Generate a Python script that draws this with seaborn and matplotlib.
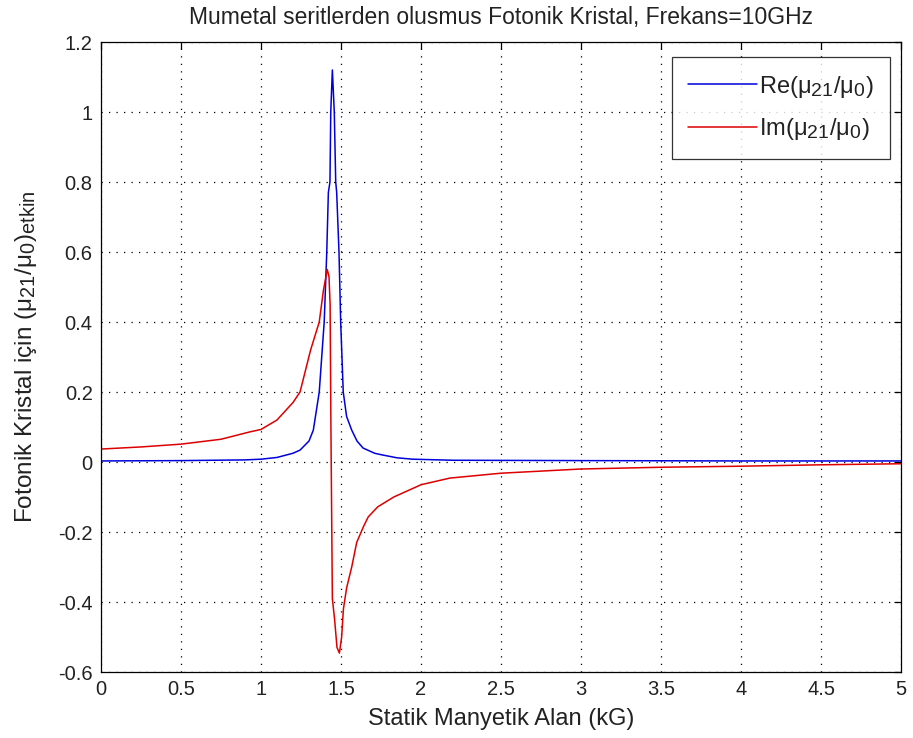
import numpy as np
import pandas as pd
import matplotlib
matplotlib.use("Agg")
import matplotlib.pyplot as plt
import seaborn as sns

try:
    import matplotlib._mathtext as _mt
    _mt.SHRINK_FACTOR = 0.82
except Exception:
    pass

# ---- data ----
field_re = [0.0, 0.5, 0.9, 1.0, 1.1, 1.2, 1.244, 1.3, 1.327, 1.364, 1.395, 1.411,
            1.421, 1.431, 1.436, 1.446, 1.458, 1.467, 1.473, 1.4875, 1.498, 1.514,
            1.535, 1.567, 1.6, 1.6375, 1.71, 1.76, 1.85, 1.95, 2.2, 3.0, 4.0, 5.0]
re_vals = [0.003, 0.004, 0.006, 0.008, 0.013, 0.025, 0.034, 0.06, 0.091, 0.2, 0.4, 0.6,
           0.77, 0.8, 1.0, 1.12, 1.0, 0.8, 0.77, 0.6, 0.4, 0.2,
           0.13, 0.091, 0.06, 0.04, 0.025, 0.02, 0.012, 0.008, 0.005, 0.004, 0.003, 0.003]

field_im = [0.0, 0.25, 0.5, 0.75, 0.93, 1.0, 1.1, 1.2, 1.244, 1.31, 1.364, 1.39,
            1.414, 1.425, 1.432, 1.437, 1.446, 1.46, 1.475, 1.49, 1.504, 1.515,
            1.535, 1.567, 1.598, 1.64, 1.67, 1.73, 1.83, 2.0, 2.18, 2.5, 3.0,
            3.5, 4.0, 4.5, 5.0]
im_vals = [0.037, 0.043, 0.051, 0.065, 0.086, 0.093, 0.12, 0.17, 0.2, 0.32, 0.4, 0.49,
           0.55, 0.53, 0.45, 0.1, -0.39, -0.45, -0.53, -0.546, -0.5, -0.42,
           -0.36, -0.3, -0.23, -0.185, -0.157, -0.128, -0.1, -0.065, -0.046, -0.032, -0.02,
           -0.015, -0.012, -0.008, -0.005]

x_ticks = [0, 0.5, 1, 1.5, 2, 2.5, 3, 3.5, 4, 4.5, 5]
x_tick_labels = ["0", "0.5", "1", "1.5", "2", "2.5", "3", "3.5", "4", "4.5", "5"]
y_ticks = [-0.6, -0.4, -0.2, 0, 0.2, 0.4, 0.6, 0.8, 1, 1.2]
y_tick_labels = ["-0.6", "-0.4", "-0.2", "0", "0.2", "0.4", "0.6", "0.8", "1", "1.2"]

title = "Mumetal seritlerden olusmus Fotonik Kristal, Frekans=10GHz"
xlabel = "Statik Manyetik Alan (kG)"
ylabel = "Fotonik Kristal için (μ$_{21}$/μ$_0$)$_{\\mathrm{etkin}}$"
label_re = "Re(μ$_{21}$/μ$_0$)"
label_im = "Im(μ$_{21}$/μ$_0$)"

sns.set_style("white")
plt.rcParams["font.family"] = ["Liberation Sans", "DejaVu Sans"]
plt.rcParams["mathtext.fontset"] = "custom"
plt.rcParams["mathtext.rm"] = "Liberation Sans"
plt.rcParams["mathtext.it"] = "Liberation Sans:italic"
plt.rcParams["mathtext.bf"] = "Liberation Sans:bold"

text_color = "#222222"

df_re = pd.DataFrame({"field": field_re, "value": re_vals})
df_im = pd.DataFrame({"field": field_im, "value": im_vals})

fig = plt.figure(figsize=(9.13, 7.38), dpi=100)
ax = fig.add_axes([101 / 913, 1 - 672 / 738, 800 / 913, 630 / 738])

sns.lineplot(data=df_re, x="field", y="value", ax=ax, color="#0000dd",
             linewidth=1.1, estimator=None, sort=True, label=label_re)
sns.lineplot(data=df_im, x="field", y="value", ax=ax, color="#dd0000",
             linewidth=1.1, estimator=None, sort=True, label=label_im)

ax.set_xlim(0, 5)
ax.set_ylim(-0.6, 1.2)
ax.set_xticks(x_ticks)
ax.set_xticklabels(x_tick_labels)
ax.set_yticks(y_ticks)
ax.set_yticklabels(y_tick_labels)

ax.grid(True, color="black", linestyle=(0, (1, 5)), linewidth=0.9)
for s in ax.spines.values():
    s.set_visible(True)
    s.set_color("black")
    s.set_linewidth(0.9)
ax.tick_params(direction="in", length=5, width=0.9, top=True, right=True,
               labelsize=14.5, colors="black", labelcolor=text_color, pad=6)

ax.set_title(title, fontsize=16.5, color=text_color, pad=13)
ax.set_xlabel(xlabel, fontsize=17, color=text_color, labelpad=6)
ax.set_ylabel(ylabel, fontsize=17.5, color=text_color, labelpad=14)

leg = ax.legend(loc="upper right", bbox_to_anchor=((890 - 101) / 800, (672 - 57) / 630),
                borderaxespad=0.0, fontsize=17, frameon=True, fancybox=False,
                handlelength=2.9, borderpad=0.7,
                labelspacing=0.7, handletextpad=0.1)
leg.get_frame().set_edgecolor("black")
leg.get_frame().set_linewidth(0.9)
for t in leg.get_texts():
    t.set_color(text_color)

fig.savefig("out.png", dpi=100)
